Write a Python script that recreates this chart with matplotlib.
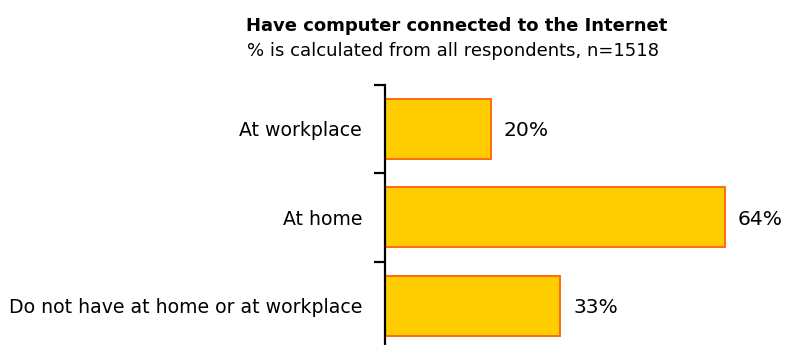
import matplotlib
matplotlib.use("Agg")
import matplotlib.pyplot as plt
from matplotlib.ticker import FixedLocator

categories = ["At workplace", "At home", "Do not have at home or at workplace"]
values = [20, 64, 33]
title = "Have computer connected to the Internet"
subtitle = "% is calculated from all respondents, n=1518"

plt.rcParams["font.family"] = ["DejaVu Sans"]

fig = plt.figure(figsize=(7.86, 3.45), dpi=100)
ax = fig.add_axes([0.4898, -0.0145, 0.49, 0.7690])

pos = list(range(len(categories)))
ax.barh(pos, values, height=0.68, color="#FFCC00", edgecolor="#FF6A13", linewidth=1.4)
ax.set_ylim(len(categories) - 0.5, -0.5)
ax.set_xlim(0, 72.5)

for p, v in zip(pos, values):
    ax.text(v + 2.4, p, f"{v}%", va="center_baseline", ha="left", fontsize=14.6)

ax.set_yticks(pos)
ax.set_yticklabels(categories, fontsize=13.6)
ax.tick_params(axis="y", which="major", length=0, pad=16.5)
ax.yaxis.set_minor_locator(FixedLocator([-0.5, 0.5, 1.5, 2.5]))
ax.tick_params(axis="y", which="minor", length=8, width=1.6, direction="out")
ax.set_xticks([])

for s in ["top", "right", "bottom"]:
    ax.spines[s].set_visible(False)
ax.spines["left"].set_linewidth(1.6)

fig.text(0.581, 0.9087, title, ha="center", va="baseline", fontsize=13, fontweight="bold")
fig.text(0.576, 0.838, subtitle, ha="center", va="baseline", fontsize=13)

fig.savefig("out.png", dpi=100)
